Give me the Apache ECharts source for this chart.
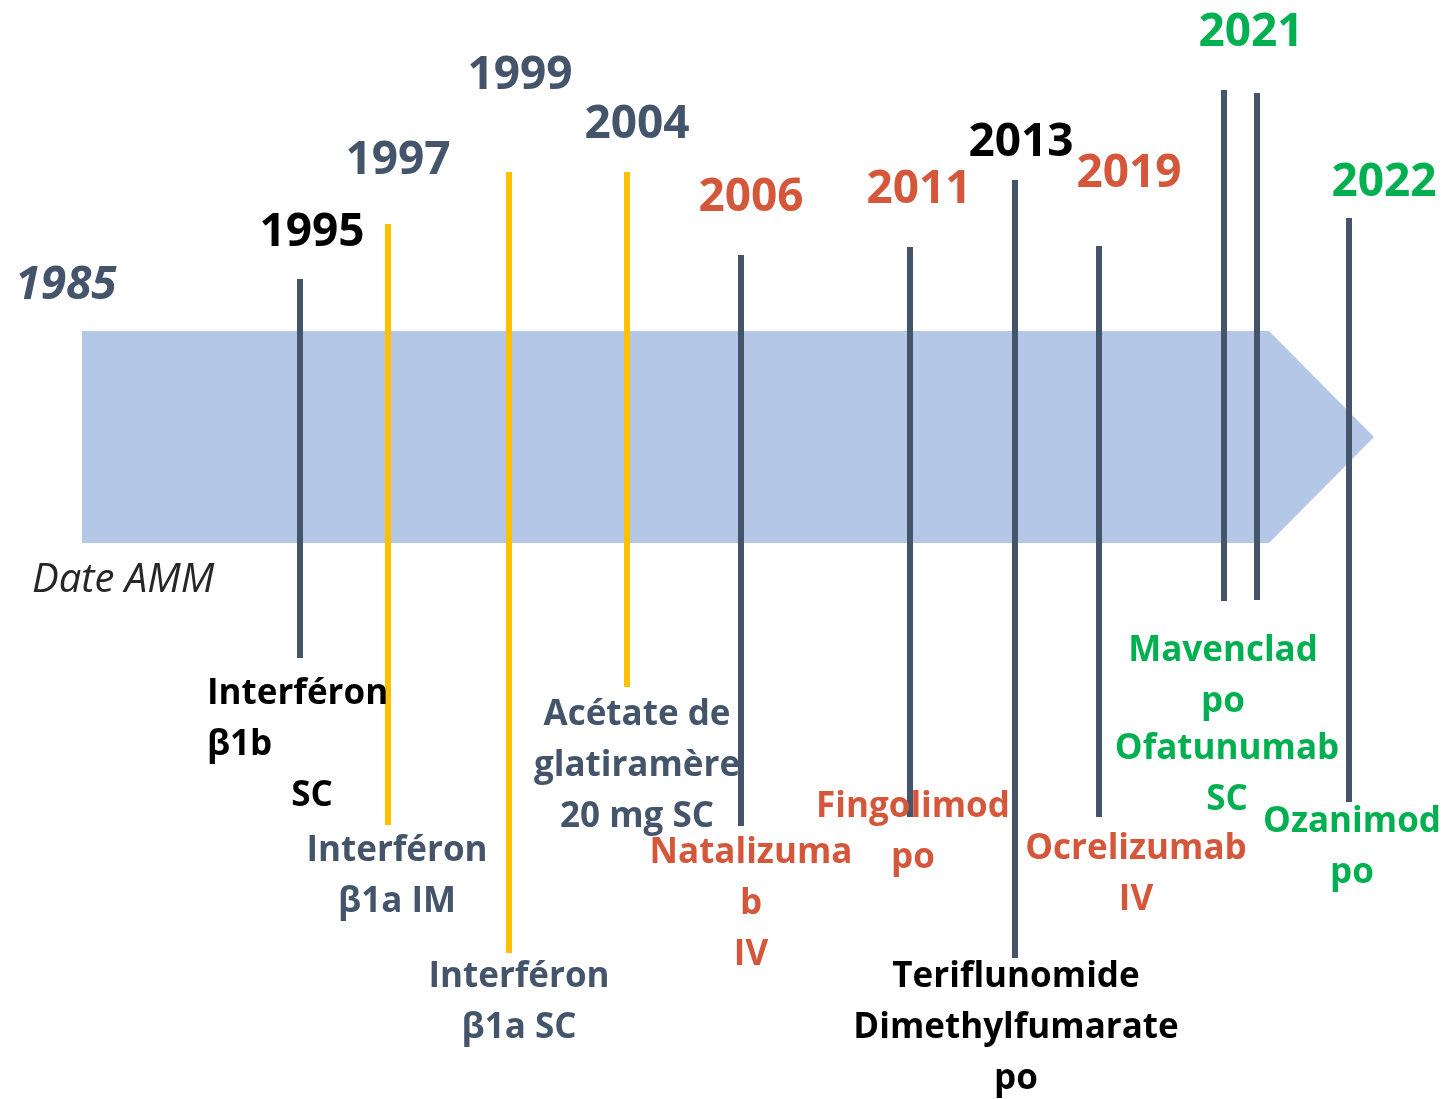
<!DOCTYPE html>
<html>
<head>
<meta charset="utf-8">
<script src="https://cdn.jsdelivr.net/npm/echarts@6/dist/echarts.min.js"></script>
<style>
  html, body { margin: 0; padding: 0; background: #fff; }
  #main { width: 1449px; height: 1099px; }
</style>
</head>
<body>
<div id="main"></div>
<script>
// positions are on a plain 0..1449 / 0..1099 page grid (y goes down)
var arrowX = [82, 1269, 1374, 1269, 82];
var arrowY = [331, 331, 437, 543, 543];

// one vertical bar per approval
var lineX      = [300, 388, 509, 627, 741, 910, 1015, 1099, 1224, 1257, 1349];
var lineTop    = [279, 224, 172, 172, 255, 247, 180, 246, 90, 93, 218];
var lineBottom = [658, 825, 953, 687, 826, 817, 958, 817, 601, 600, 802];
var lineKind   = ['dark', 'gold', 'gold', 'gold', 'dark', 'dark', 'dark', 'dark', 'dark', 'dark', 'dark'];

// years on top
var yearText  = ['1995', '1997', '1999', '2004', '2006', '2011', '2013', '2019', '2021', '2022'];
var yearX     = [312, 398, 520, 637, 751, 919, 1021, 1129, 1251, 1384];
var yearY     = [233, 161, 76, 125, 198, 190, 143, 174, 33, 183];
var yearGroup = ['black', 'gray', 'gray', 'gray', 'red', 'red', 'black', 'red', 'green', 'green'];

// drug names below
var drugText = ['Interféron\nβ1b', 'SC', 'Interféron\nβ1a IM', 'Interféron\nβ1a SC',
  'Acétate de\nglatiramère\n20 mg SC', 'Natalizuma\nb\nIV', 'Fingolimod\npo',
  'Teriflunomide\nDimethylfumarate\npo', 'Ocrelizumab\nIV', 'Mavenclad\npo', 'Ofatunumab\nSC', 'Ozanimod\npo'];
var drugX     = [207, 312, 397, 519, 637, 751, 913, 1016, 1136, 1223, 1227, 1352];
var drugY     = [694, 796, 851, 977, 715, 853, 807, 977, 849, 651, 749, 822];
var drugGroup = ['black', 'black', 'gray', 'gray', 'gray', 'red', 'red', 'black', 'red', 'green', 'green', 'green'];

var colors = {
  black: '#000000', gray: '#44546a', red: '#d5573b', green: '#00b050',
  dark: '#44546a', gold: '#ffc000', arrow: '#b4c7e7'
};
var FONT = '"Open Sans", "Noto Sans", sans-serif';

var myChart = echarts.init(document.getElementById('main'));

var lineData = lineX.map(function (x, i) { return [x, lineTop[i], lineBottom[i], i]; });
var yearData = yearX.map(function (x, i) { return [x, yearY[i], i]; });
var drugData = drugX.map(function (x, i) { return [x, drugY[i], i]; });

var option = {
  animation: false,
  grid: { left: 0, right: 0, top: 0, bottom: 0 },
  xAxis: { type: 'value', min: 0, max: 1449, show: false },
  yAxis: { type: 'value', min: 0, max: 1099, inverse: true, show: false },
  series: [
    {
      // the big arrow
      type: 'custom',
      data: [[0]],
      renderItem: function (params, api) {
        var pts = arrowX.map(function (x, i) { return api.coord([x, arrowY[i]]); });
        return { type: 'polygon', shape: { points: pts }, style: { fill: colors.arrow } };
      }
    },
    {
      type: 'custom',
      data: lineData,
      renderItem: function (params, api) {
        var i = api.value(3);
        var a = api.coord([api.value(0), api.value(1)]);
        var b = api.coord([api.value(0), api.value(2)]);
        return {
          type: 'line',
          shape: { x1: a[0], y1: a[1], x2: b[0], y2: b[1] },
          style: { stroke: colors[lineKind[i]], lineWidth: 6 }
        };
      }
    },
    {
      type: 'custom',
      data: yearData,
      renderItem: function (params, api) {
        var i = api.value(2);
        var p = api.coord([api.value(0), api.value(1)]);
        return {
          type: 'text', x: p[0], y: p[1],
          style: {
            text: yearText[i], fill: colors[yearGroup[i]],
            font: 'bold 46px ' + FONT, align: 'center', verticalAlign: 'middle'
          }
        };
      }
    },
    {
      type: 'custom',
      data: drugData,
      renderItem: function (params, api) {
        var i = api.value(2);
        var p = api.coord([api.value(0), api.value(1)]);
        return {
          type: 'text', x: p[0], y: p[1] - 25,
          style: {
            text: drugText[i], fill: colors[drugGroup[i]],
            font: 'bold 35px ' + FONT, lineHeight: 51,
            align: i === 0 ? 'left' : 'center', verticalAlign: 'top'
          }
        };
      }
    },
    {
      // corner texts
      type: 'custom',
      data: [[66, 286, 0], [32, 581, 1]],
      renderItem: function (params, api) {
        var i = api.value(2);
        var p = api.coord([api.value(0), api.value(1)]);
        return {
          type: 'text', x: p[0], y: p[1],
          style: i === 0
            ? { text: '1985', fill: colors.gray, font: 'italic bold 46px ' + FONT, align: 'center', verticalAlign: 'middle' }
            : { text: 'Date AMM', fill: '#262626', font: 'italic 40px ' + FONT, align: 'left', verticalAlign: 'middle' }
        };
      }
    }
  ]
};

myChart.setOption(option);
</script>
</body>
</html>
